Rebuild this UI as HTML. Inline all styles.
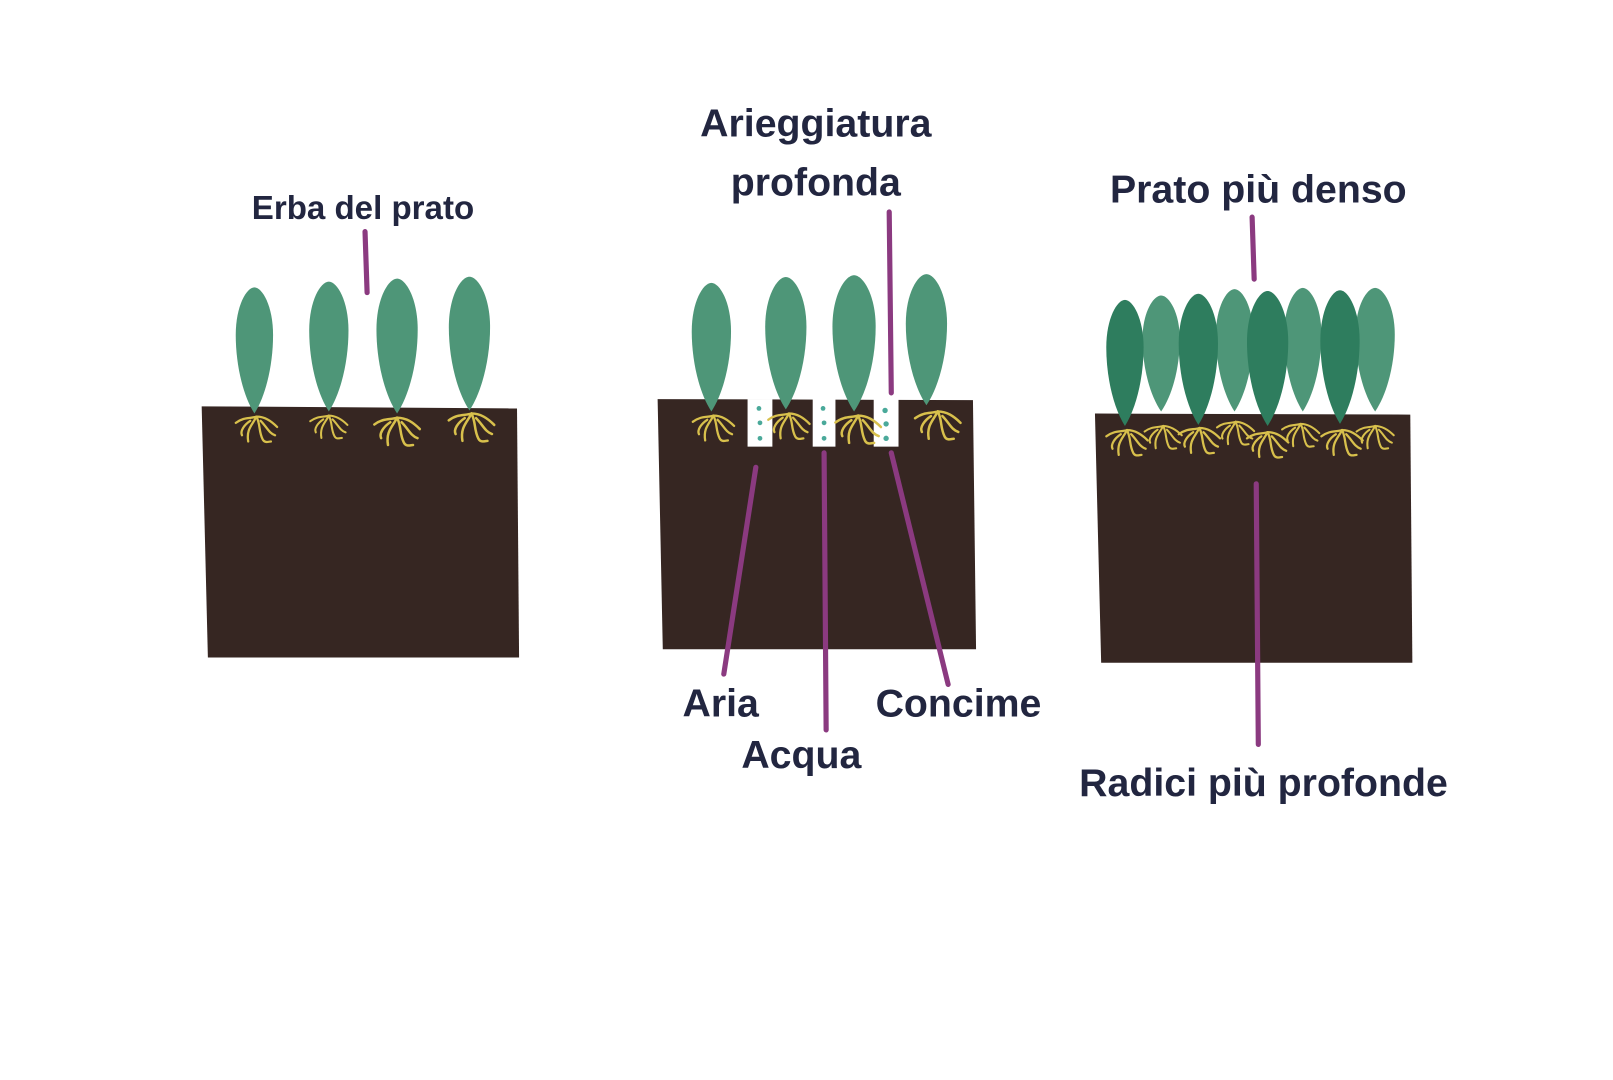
<!DOCTYPE html>
<html><head><meta charset="utf-8"><style>
html,body{margin:0;padding:0;background:#fff;width:1613px;height:1080px;overflow:hidden}
svg{display:block}
text{font-family:"Liberation Sans",sans-serif;font-weight:bold;fill:#222640}
</style></head><body>
<svg width="1613" height="1080" viewBox="0 0 1560 1044.6" xmlns="http://www.w3.org/2000/svg">
<defs>
<g id="roots" fill="none" stroke="#d8c04c" stroke-width="2.2" stroke-linecap="round">
<path d="M0 0 C-6 2 -12 0 -20 6"/>
<path d="M0 0 C8 0 14 4 20 10"/>
<path d="M0 0 C-4 8 -10 12 -8 24"/>
<path d="M0 0 C4 8 2 14 6 22 C8 26 12 24 14 24"/>
<path d="M-6 4 C-12 8 -16 14 -14 18"/>
<path d="M4 4 C10 10 12 16 18 18"/>
</g>
<path id="leaf" d="M0 0 C-12 -18 -19 -48 -19 -76 C-19 -104 -8 -122 0 -122 C8 -122 19 -104 19 -76 C19 -48 12 -18 0 0 Z"/>
</defs>

<!-- Box 1 -->
<polygon points="195,393 500,395 502,636 201,636" fill="#362622"/>
<g fill="#4e9678">
<use href="#leaf" transform="translate(246,400) scale(0.95,1)"/>
<use href="#leaf" transform="translate(318,398) scale(1,1.03)"/>
<use href="#leaf" transform="translate(384,400) scale(1.05,1.07)"/>
<use href="#leaf" transform="translate(454,397) scale(1.05,1.06)"/>
</g>
<use href="#roots" transform="translate(248,403)"/>
<use href="#roots" transform="translate(318,402) scale(0.9)"/>
<use href="#roots" transform="translate(384,404) scale(1.1)"/>
<use href="#roots" transform="translate(456,400) scale(1.1)"/>

<!-- Box 2 -->
<polygon points="636,386 941,387 944,628 641,628" fill="#362622"/>
<g fill="#fff">
<rect x="723" y="386" width="24" height="46"/>
<rect x="786" y="386" width="22" height="46"/>
<rect x="845" y="386" width="24" height="46"/>
</g>
<g fill="#4aa99a">
<circle cx="734" cy="395" r="2.3"/><circle cx="735" cy="409" r="2.3"/><circle cx="735" cy="424" r="2.3"/>
<circle cx="796" cy="395" r="2.3"/><circle cx="797" cy="409" r="2.3"/><circle cx="797" cy="424" r="2.3"/>
<circle cx="856" cy="397" r="2.6"/><circle cx="857" cy="410" r="2.6"/><circle cx="857" cy="424" r="2.6"/>
</g>
<g fill="#4e9678">
<use href="#leaf" transform="translate(688,398) scale(1,1.02)"/>
<use href="#leaf" transform="translate(760,396) scale(1.05,1.05)"/>
<use href="#leaf" transform="translate(826,398) scale(1.1,1.08)"/>
<use href="#leaf" transform="translate(896,392) scale(1.05,1.04)"/>
</g>
<use href="#roots" transform="translate(690,402)"/>
<use href="#roots" transform="translate(763,400)"/>
<use href="#roots" transform="translate(830,402) scale(1.1)"/>
<use href="#roots" transform="translate(907,398) scale(1.1)"/>

<!-- Box 3 -->
<polygon points="1059,400 1364,401 1366,641 1065,641" fill="#362622"/>
<g>
<use href="#leaf" fill="#4e9678" transform="translate(1123,398) scale(0.95,0.92)"/>
<use href="#leaf" fill="#4e9678" transform="translate(1194,398) scale(0.95,0.97)"/>
<use href="#leaf" fill="#4e9678" transform="translate(1260,398) scale(0.95,0.98)"/>
<use href="#leaf" fill="#4e9678" transform="translate(1330,398) scale(1,0.98)"/>
<use href="#leaf" fill="#2e7d5e" transform="translate(1088,412) scale(0.95,1)"/>
<use href="#leaf" fill="#2e7d5e" transform="translate(1159,411) scale(1,1.04)"/>
<use href="#leaf" fill="#2e7d5e" transform="translate(1226,412) scale(1.05,1.07)"/>
<use href="#leaf" fill="#2e7d5e" transform="translate(1296,410) scale(1,1.06)"/>
</g>
<use href="#roots" transform="translate(1090,416)"/>
<use href="#roots" transform="translate(1125,412) scale(0.9)"/>
<use href="#roots" transform="translate(1160,414)"/>
<use href="#roots" transform="translate(1195,408) scale(0.9)"/>
<use href="#roots" transform="translate(1226,418)"/>
<use href="#roots" transform="translate(1258,410) scale(0.9)"/>
<use href="#roots" transform="translate(1298,416)"/>
<use href="#roots" transform="translate(1330,412) scale(0.9)"/>

<!-- Connectors -->
<g stroke="#8b3a80" stroke-width="5" stroke-linecap="round" fill="none">
<line x1="353" y1="224" x2="355" y2="283"/>
<line x1="860" y1="205" x2="862" y2="380"/>
<line x1="731" y1="452" x2="700" y2="652"/>
<line x1="797" y1="438" x2="799" y2="706"/>
<line x1="862" y1="438" x2="917" y2="662"/>
<line x1="1211" y1="210" x2="1213" y2="270"/>
<line x1="1215" y1="468" x2="1217" y2="720"/>
</g>

<!-- Labels -->
<text x="351" y="212" font-size="32" text-anchor="middle">Erba del prato</text>
<text x="789" y="132" font-size="38" text-anchor="middle">Arieggiatura</text>
<text x="789" y="189" font-size="38" text-anchor="middle">profonda</text>
<text x="1217" y="196" font-size="38" text-anchor="middle">Prato più denso</text>
<text x="697" y="693" font-size="38" text-anchor="middle">Aria</text>
<text x="775" y="743" font-size="38" text-anchor="middle">Acqua</text>
<text x="927" y="693" font-size="38" text-anchor="middle">Concime</text>
<text x="1222" y="770" font-size="38" text-anchor="middle">Radici più profonde</text>
</svg>
</body></html>
